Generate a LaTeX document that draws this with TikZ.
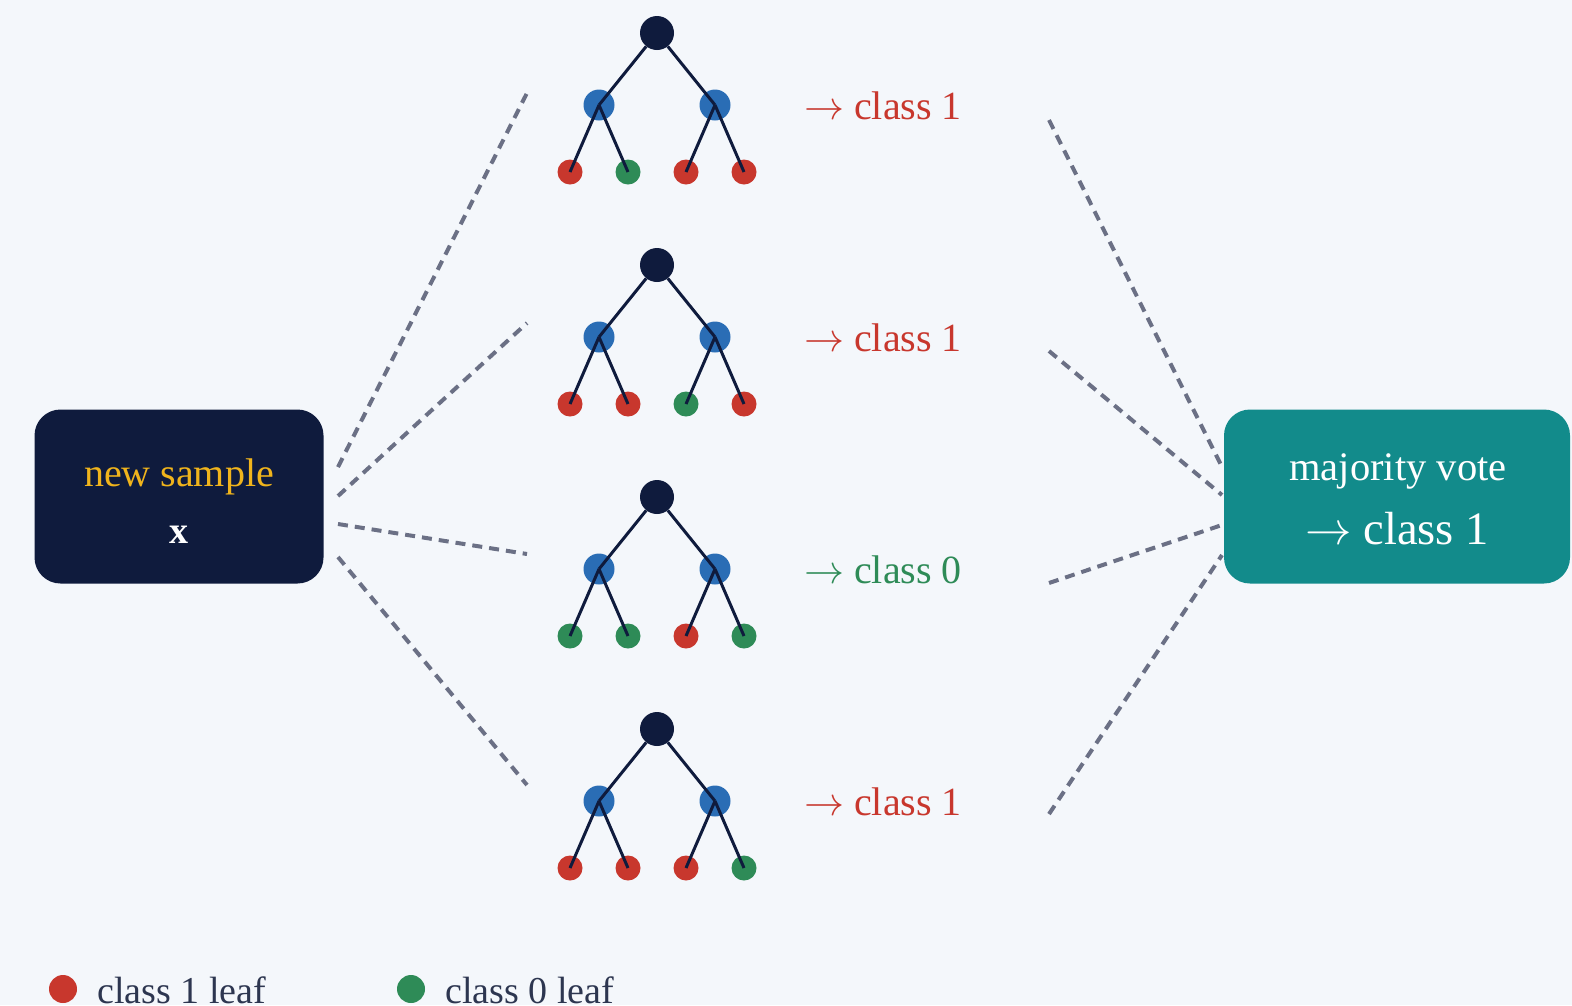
\RequirePackage{fix-cm}
\documentclass[tikz,border=0pt]{standalone}
\usepackage{fontspec}
\setmainfont{Liberation Serif}
\definecolor{bg}{HTML}{F4F7FB}
\definecolor{navy}{HTML}{0F1B3D}
\definecolor{splitblue}{HTML}{2A6DB5}
\definecolor{cone}{HTML}{C8372D}
\definecolor{czero}{HTML}{2E8B57}
\definecolor{teal}{HTML}{128B8B}
\definecolor{gold}{HTML}{F0B41C}
\definecolor{linkgray}{HTML}{6B7085}
\definecolor{legendtext}{HTML}{2D3650}
\newcommand{\bigtext}[1]{\fontsize{#1}{#1}\selectfont}
\newcommand{\toarrow}{$\rightarrow$}
\begin{document}
\begin{tikzpicture}[x=1pt,y=-1pt,
  treeroot/.style={circle,fill=navy,minimum size=34pt,inner sep=0pt},
  treesplit/.style={circle,fill=splitblue,minimum size=31pt,inner sep=0pt},
  treeleaf/.style={circle,minimum size=25pt,inner sep=0pt},
  branch/.style={navy,line width=3pt},
  link/.style={linkgray,line width=4pt,dash pattern=on 10pt off 7pt},
  votelabel/.style={anchor=base west,inner sep=0pt,font=\bigtext{40}},
  panel/.style={rounded corners=26pt,inner sep=0pt}]
\fill[bg] (0,0) rectangle (1572,1005);
\useasboundingbox (0,0) rectangle (1572,1005);

% input sample
\node[panel,fill=navy,minimum width=289pt,minimum height=174pt] (src) at (179,496.5) {};
\node[anchor=base,inner sep=0pt,text=gold,font=\bigtext{40}] (srctitle) at (179,486) {new sample};
\node[anchor=base,inner sep=0pt,text=white,font=\bigtext{38}\bfseries] (srcx) at (179,543) {x};

% aggregation
\node[panel,fill=teal,minimum width=346pt,minimum height=174pt] (agg) at (1397,496.5) {};
\node[anchor=base,inner sep=0pt,text=white,font=\bigtext{40.5}] (aggtitle) at (1398,480) {majority vote};
\node[anchor=base,inner sep=0pt,text=white,font=\bigtext{46.5}] (aggres) at (1397,544) {\toarrow{} class 1};

% the four trees with their predictions
\foreach \i/\yy/\ca/\cb/\cc/\cd/\lab/\lc in
  {1/0/cone/czero/cone/cone/1/cone,
   2/232/cone/cone/czero/cone/1/cone,
   3/464/czero/czero/cone/czero/0/czero,
   4/696/cone/cone/cone/czero/1/cone}{
  \node[treesplit] (a\i) at (599,105+\yy) {};
  \node[treesplit] (b\i) at (715,105+\yy) {};
  \node[treeleaf,fill=\ca] (la\i) at (570,172+\yy) {};
  \node[treeleaf,fill=\cb] (lb\i) at (628,172+\yy) {};
  \node[treeleaf,fill=\cc] (lc\i) at (686,172+\yy) {};
  \node[treeleaf,fill=\cd] (ld\i) at (744,172+\yy) {};
  \draw[branch] (a\i.center) -- (la\i.center);
  \draw[branch] (a\i.center) -- (lb\i.center);
  \draw[branch] (b\i.center) -- (lc\i.center);
  \draw[branch] (b\i.center) -- (ld\i.center);
  \node[treeroot] (r\i) at (657,33+\yy) {};
  \draw[branch] (r\i) -- (a\i.center);
  \draw[branch] (r\i) -- (b\i.center);
  \node[votelabel,text=\lc] (v\i) at (804,119+\yy) {\toarrow{} class \lab};
}

% dashed links from the sample to each tree and from each tree to the vote
\coordinate (s1) at (338,467);  \coordinate (e1) at (527,93);
\coordinate (s2) at (338,496);  \coordinate (e2) at (527,323);
\coordinate (s3) at (338,524);  \coordinate (e3) at (527,554);
\coordinate (s4) at (338,557);  \coordinate (e4) at (527,785);
\coordinate (f1) at (1049,120); \coordinate (g1) at (1222,467);
\coordinate (f2) at (1049,351); \coordinate (g2) at (1222,495);
\coordinate (f3) at (1049,583); \coordinate (g3) at (1222,525);
\coordinate (f4) at (1049,814); \coordinate (g4) at (1222,555);
\foreach \i in {1,...,4}{
  \draw[link] (s\i) -- (e\i);
  \draw[link] (f\i) -- (g\i);
}

% legend
\node[circle,fill=cone,minimum size=28pt,inner sep=0pt] (keyone) at (63,989) {};
\node[anchor=base west,inner sep=0pt,text=legendtext,font=\bigtext{38}] (keyonetext) at (97,1003) {class 1 leaf};
\node[circle,fill=czero,minimum size=28pt,inner sep=0pt] (keyzero) at (411,989) {};
\node[anchor=base west,inner sep=0pt,text=legendtext,font=\bigtext{38}] (keyzerotext) at (445,1003) {class 0 leaf};
\end{tikzpicture}
\end{document}
